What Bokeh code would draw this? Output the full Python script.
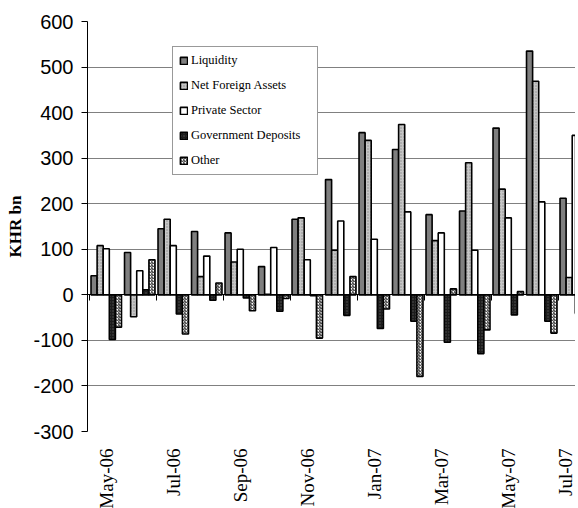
import math
from bokeh.plotting import figure
from bokeh.models import (Range1d, FixedTicker, LinearAxis, Legend, LegendItem,
                          ColumnDataSource)
from bokeh.transform import dodge
from bokeh.embed import file_html
from bokeh.resources import INLINE

months = ["May-06", "Jun-06", "Jul-06", "Aug-06", "Sep-06", "Oct-06", "Nov-06",
          "Dec-06", "Jan-07", "Feb-07", "Mar-07", "Apr-07", "May-07", "Jun-07", "Jul-07"]
liquidity = [42, 93, 145, 139, 136, 62, 166, 253, 356, 319, 176, 184, 366, 535, 212]
net_foreign_assets = [108, -48, 166, 40, 72, 1, 169, 98, 339, 374, 119, 290, 232, 469, 38]
private_sector = [101, 53, 108, 85, 100, 104, 77, 162, 122, 182, 136, 98, 169, 204, 350]
government_deposits = [-98, 11, -42, -12, -7, -36, -2, -45, -74, -58, -104, -129, -44, -58, -42]
other = [-71, 77, -86, 26, -35, -8, -95, 40, -31, -179, 13, -77, 7, -84, -40]

y_ticks = [-300, -200, -100, 0, 100, 200, 300, 400, 500, 600]
label_every = 2

n = len(months)
xc = [i + 0.5 for i in range(n)]
src = ColumnDataSource(dict(x=xc, liq=liquidity, nfa=net_foreign_assets,
                            priv=private_sector, gov=government_deposits, oth=other))

px_per_cat = 33.5
frame_w = 488
x0 = -0.06

p = figure(frame_width=frame_w, frame_height=410,
           x_range=Range1d(x0, x0 + frame_w / px_per_cat),
           y_range=Range1d(-300, 600),
           output_backend="svg", toolbar_location=None,
           min_border_left=87, min_border_right=0, min_border_top=21,
           min_border_bottom=10)
p.outline_line_color = None
p.background_fill_color = "white"
p.border_fill_color = "white"

bw = 0.182
series = [
    ("Liquidity", "liq", dict(fill_color="#7f7f7f")),
    ("Net Foreign Assets", "nfa", dict(fill_color="#c6c6c6", hatch_pattern="dot",
                                        hatch_color="#8a8a8a", hatch_scale=3)),
    ("Private Sector", "priv", dict(fill_color="white")),
    ("Government Deposits", "gov", dict(fill_color="#1c1c1c", hatch_pattern="dot",
                                         hatch_color="#555555", hatch_scale=3)),
    ("Other", "oth", dict(fill_color="white", hatch_pattern="right_diagonal_line",
                          hatch_color="#222222", hatch_scale=3, hatch_weight=1)),
]
items = []
for k, (name, col, style) in enumerate(series):
    off = (k - 2) * bw
    r = p.vbar(x=dodge("x", off), top=col, bottom=0, width=bw, source=src,
               line_color="black", line_width=1.6, **style)
    items.append(LegendItem(label=name, renderers=[r]))

# y axis
ya = p.yaxis[0]
ya.ticker = FixedTicker(ticks=y_ticks)
ya.major_label_overrides = {t: str(t) for t in y_ticks}
ya.major_label_text_font = "Liberation Sans"
ya.major_label_text_font_size = "20px"
ya.major_label_text_color = "black"
ya.major_tick_in = 0
ya.major_tick_out = 6
ya.minor_tick_line_color = None
ya.major_label_standoff = 8
ya.axis_line_color = "black"
ya.major_tick_line_color = "black"
ya.axis_label = "KHR bn"
ya.axis_label_text_font = "Liberation Serif"
ya.axis_label_text_font_style = "bold"
ya.axis_label_text_font_size = "17px"
ya.axis_label_text_color = "black"
ya.axis_label_standoff = 5

p.ygrid.ticker = FixedTicker(ticks=y_ticks)
p.ygrid.grid_line_color = "#808080"
p.ygrid.grid_line_width = 1
p.xgrid.visible = False

# bottom label axis
xa = p.xaxis[0]
lab_ticks = [xc[i] for i in range(0, n, label_every)]
xa.ticker = FixedTicker(ticks=lab_ticks)
xa.major_label_overrides = {xc[i]: months[i] for i in range(0, n, label_every)}
xa.major_label_orientation = math.pi / 2
xa.major_label_text_font = "Liberation Serif"
xa.major_label_text_font_size = "19px"
xa.major_label_text_color = "black"
xa.axis_line_color = None
xa.major_tick_line_color = None
xa.minor_tick_line_color = None
xa.major_tick_out = 0
xa.major_tick_in = 0
xa.major_label_standoff = 17

# zero axis with category boundary ticks
bounds = [float(i) for i in range(0, n + 1, label_every)]
za = LinearAxis(fixed_location=0, ticker=FixedTicker(ticks=bounds))
za.major_label_overrides = {b: "" for b in bounds}
za.axis_line_color = "black"
za.axis_line_width = 1
za.major_tick_line_color = "black"
za.major_tick_in = 0
za.major_tick_out = 6
za.minor_tick_line_color = None
p.add_layout(za, "below")

legend = Legend(items=items, location=(85, 256), margin=0)
legend.label_text_font = "Liberation Serif"
legend.label_text_font_size = "12.5px"
legend.label_text_color = "black"
legend.label_height = 14
legend.glyph_height = 9
legend.glyph_width = 9
legend.label_standoff = 3
legend.spacing = 10
legend.padding = 6
legend.label_width = 120
legend.border_line_color = "#333333"
legend.border_line_width = 1
legend.background_fill_color = "white"
legend.background_fill_alpha = 1
p.add_layout(legend)

open("out.html", "w").write(file_html(p, INLINE))
